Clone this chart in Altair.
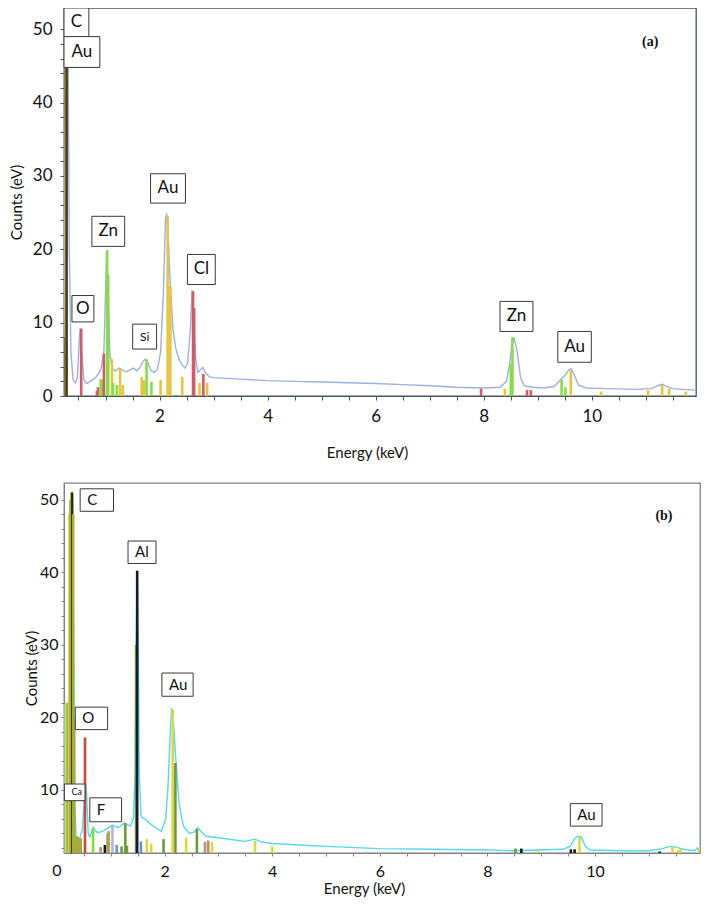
import altair as alt
import pandas as pd

# ---------------- Panel (a) data ----------------
a_energy = [0.232, 0.24, 0.25, 0.27, 0.29, 0.31, 0.33, 0.36, 0.40, 0.44, 0.48, 0.51, 0.53, 0.56, 0.60,
            0.65, 0.72, 0.80, 0.87, 0.92, 0.97, 1.00, 1.02, 1.05, 1.08, 1.12, 1.18, 1.25, 1.30, 1.38,
            1.46, 1.52, 1.58, 1.65, 1.70, 1.74, 1.78, 1.84, 1.90, 1.96, 2.02, 2.07, 2.11, 2.13, 2.16,
            2.20, 2.25, 2.30, 2.36, 2.42, 2.47, 2.52, 2.57, 2.60, 2.63, 2.67, 2.71, 2.76, 2.80, 2.85,
            2.92, 3.0, 3.5, 4.0, 4.5, 5.0, 5.5, 6.0, 6.5, 7.0, 7.5, 8.0, 8.3, 8.42, 8.48, 8.52, 8.56,
            8.62, 8.68, 8.75, 8.9, 9.1, 9.3, 9.42, 9.5, 9.58, 9.62, 9.68, 9.75, 9.9, 10.3, 10.8, 11.1,
            11.22, 11.3, 11.38, 11.5, 11.7, 11.92]
a_counts = [8.0, 14.0, 30.0, 60.0, 60.0, 45.0, 20.0, 6.0, 2.2, 1.8, 2.5, 7.0, 9.2, 6.0, 2.2,
            1.7, 2.0, 2.4, 3.0, 3.8, 6.0, 14.0, 19.8, 14.0, 6.0, 3.8, 3.4, 3.8, 3.6, 3.3,
            3.6, 3.8, 3.4, 4.0, 4.8, 5.0, 4.6, 3.5, 3.2, 3.6, 6.0, 14.0, 24.0, 24.9, 22.0,
            15.0, 9.0, 6.5, 5.0, 4.2, 3.8, 4.5, 9.0, 14.4, 11.0, 5.0, 3.2, 3.6, 3.9, 3.2,
            2.6, 2.5, 2.3, 2.1, 2.0, 1.9, 1.8, 1.7, 1.55, 1.4, 1.2, 1.1, 1.2, 2.0, 4.5, 7.0, 8.0,
            6.0, 2.5, 1.4, 1.2, 1.1, 1.3, 2.2, 2.8, 3.6, 3.7, 2.8, 1.5, 1.1, 1.0, 0.9, 1.0,
            1.4, 1.6, 1.3, 1.0, 0.9, 0.8]

a_bar_energy = [0.27, 0.28, 0.55, 0.84, 0.86, 0.91, 0.95, 0.97, 1.03, 1.05, 1.12, 1.14, 1.21, 1.27,
                1.32, 1.67, 1.71, 1.76, 1.85, 2.02, 2.15, 2.20, 2.42, 2.62, 2.64, 2.74, 2.81, 2.88,
                7.95, 8.39, 8.50, 8.53, 8.80, 8.87, 9.44, 9.51, 9.61, 10.17, 11.04, 11.30, 11.43, 11.74]
a_bar_counts = [44.8, 44.8, 9.2, 0.7, 1.2, 2.3, 2.2, 5.8, 19.9, 16.5, 5.0, 1.8, 1.5, 3.8,
                1.5, 2.6, 2.2, 5.0, 1.9, 2.2, 24.5, 15.0, 2.6, 14.3, 12.0, 1.8, 3.0, 1.8,
                1.0, 1.0, 4.4, 8.0, 0.8, 0.8, 2.2, 1.2, 3.5, 0.6, 0.8, 1.5, 1.0, 0.6]
a_bar_element = ["Au", "C", "O", "Cl", "Cl", "Zn", "Zn", "Cl", "Zn", "Zn", "Au", "Zn", "Zn", "Au",
                 "Au", "Au", "Au", "Zn", "Zn", "Au", "Au", "Au", "Au", "Cl", "Cl", "Au", "Cl", "Au",
                 "Cl", "Au", "Zn", "Zn", "Cl", "Cl", "Zn", "Zn", "Au", "Au", "Au", "Au", "Au", "Au"]

a_lab_text = ["C", "Au", "O", "Zn", "Si", "Au", "Cl", "Zn", "Au"]
a_lab_x1 = [0.232, 0.232, 0.379, 0.748, 1.503, 1.834, 2.516, 8.30, 9.37]
a_lab_x2 = [0.692, 0.895, 0.785, 1.355, 1.945, 2.479, 3.031, 8.91, 9.99]
a_lab_y1 = [49.0, 44.8, 10.1, 20.4, 6.4, 26.3, 15.2, 8.8, 4.6]
a_lab_y2 = [52.9, 49.0, 13.7, 24.5, 9.8, 30.3, 19.3, 12.9, 8.8]

# ---------------- Panel (b) data ----------------
b_energy = [0.13, 0.135, 0.22, 0.25, 0.28, 0.29, 0.31, 0.33, 0.36, 0.42, 0.47, 0.51, 0.53, 0.55,
            0.58, 0.61, 0.67, 0.72, 0.76, 0.85, 0.96, 1.03, 1.14, 1.25, 1.36, 1.42, 1.45, 1.47,
            1.49, 1.51, 1.53, 1.56, 1.58, 1.63, 1.75, 1.85, 1.94, 2.02, 2.06, 2.10, 2.13, 2.16,
            2.20, 2.27, 2.35, 2.46, 2.55, 2.62, 2.68, 2.77, 3.0, 3.5, 3.68, 3.8, 4.0, 4.5, 5.0,
            6.0, 7.0, 8.0, 8.5, 8.9, 9.4, 9.54, 9.62, 9.68, 9.74, 9.82, 9.9, 10.5, 11.0, 11.25,
            11.4, 11.5, 11.65, 11.85, 11.9, 11.95]
b_counts = [1.3, 21.7, 21.7, 40.0, 51.1, 50.5, 30.0, 8.0, 2.8, 3.2, 4.5, 9.0, 11.0, 9.5,
            4.0, 3.5, 4.8, 4.3, 4.1, 4.3, 4.8, 5.1, 4.8, 5.4, 5.0, 6.0, 12.0, 30.0,
            40.2, 30.0, 12.0, 6.6, 6.2, 6.0, 5.2, 4.7, 4.3, 6.0, 10.0, 17.0, 21.3, 20.0,
            15.0, 8.0, 5.0, 4.0, 4.2, 4.8, 4.2, 3.6, 3.4, 2.9, 3.2, 2.8, 2.6, 2.4, 2.2,
            1.9, 1.8, 1.7, 1.6, 1.7, 1.8, 2.2, 3.3, 3.6, 3.5, 2.2, 1.7, 1.6, 1.6, 1.9,
            2.2, 2.1, 1.8, 1.6, 2.0, 1.5]

b_bar_energy = [0.17, 0.20, 0.23, 0.25, 0.27, 0.28, 0.30, 0.32, 0.35, 0.38, 0.41, 0.44, 0.52,
                0.67, 0.81, 0.89, 0.94, 0.96, 1.03, 1.11, 1.20, 1.27, 1.30, 1.47, 1.49, 1.56,
                1.67, 1.75, 1.98, 2.15, 2.20, 2.40, 2.60, 2.75, 2.81, 2.88, 3.68, 4.00,
                8.52, 8.63, 8.94, 9.55, 9.62, 9.71, 11.20, 11.44, 11.55, 11.59, 11.93]
b_bar_counts = [22.0, 22.0, 48.0, 50.0, 51.0, 51.0, 48.0, 20.0, 3.5, 3.6, 3.4, 3.3, 17.2,
                4.8, 2.1, 2.4, 4.0, 4.3, 5.0, 2.4, 2.2, 5.4, 2.3, 30.0, 40.2, 2.9,
                3.2, 2.6, 3.2, 21.0, 13.7, 3.4, 4.6, 2.8, 3.0, 2.8, 3.0, 2.2,
                1.9, 1.9, 1.7, 1.8, 1.8, 3.4, 1.5, 2.1, 1.7, 1.9, 1.8]
b_bar_element = ["Au", "C", "Au", "C", "Au", "Cx", "C", "C", "C", "C", "C", "C", "O",
                 "F", "Fe", "Cu", "Fe", "C", "Na", "Mg", "Ca", "Ca", "Ca", "Ca", "Al", "Mg",
                 "Au", "Au", "Ca", "Au", "Ca", "Au", "Ca", "Fe", "Fe", "Au", "Au", "Au",
                 "Ca", "Cu", "Au", "Cu", "Cu", "Au", "Cu", "Au", "Au", "Au", "Au"]

b_lab_text = ["C", "Al", "Au", "O", "Ca", "F", "Au"]
b_lab_x1 = [0.43, 1.32, 1.95, 0.34, 0.137, 0.61, 9.54]
b_lab_x2 = [1.05, 1.84, 2.53, 0.94, 0.52, 1.20, 10.13]
b_lab_y1 = [48.4, 41.2, 22.9, 18.3, 8.5, 5.6, 5.0]
b_lab_y2 = [51.5, 44.3, 26.1, 21.4, 10.8, 8.9, 8.1]
b_zero_tick = [0.0]

# ---------------- styling ----------------
FONT = "Lato"
a_colors = {"Au": "#e6c43e", "C": "#4a3c12", "O": "#d45a66", "Cl": "#d45a66", "Zn": "#86dc46"}
b_colors = {"Au": "#dcd840", "C": "#a4ac3c", "Cx": "#2e2c0c", "O": "#c84a3c", "F": "#7ee03a",
            "Fe": "#b89070", "Cu": "#1a1a1a", "Na": "#b8b0e8", "Mg": "#6a8ed8", "Ca": "#6e9a3a",
            "Al": "#141a30"}


def panel(energy, counts, bE, bC, bEl, colors, lt, lx1, lx2, ly1, ly2, xdom, ydom, w, h,
          line_color, frame, tag, ybase, boxed_left, lab_size, tick_size, pads, xtitle_x,
          y_values, x_values, zero=None):
    # pads = (x titlePadding, y titlePadding, y labelPadding, tickSize, x labelPadding)
    spec = pd.DataFrame({"E": energy, "C": counts})
    bars = pd.DataFrame({"E": bE, "C": bC, "el": bEl})
    bars["base"] = ybase
    labs = pd.DataFrame({"t": lt, "x1": lx1, "x2": lx2, "y1": ly1, "y2": ly2})

    xs = alt.Scale(domain=xdom, nice=False, zero=False)
    ys = alt.Scale(domain=ydom, nice=False, zero=False)
    xax = alt.Axis(values=x_values, title="Energy (keV)",
                   labelExpr="datum.value % 2 == 0 ? '' + datum.value : ''",
                   labelOverlap=False, labelFlush=False, labelBound=False, grid=False, tickSize=pads[3],
                   labelPadding=pads[4],
                   labelFontSize=tick_size, titleFontSize=15, titleFontWeight="normal", titlePadding=pads[0],
                   titleX=xtitle_x, domainColor=frame, tickColor=frame, labelColor="#111", titleColor="#111",
                   labelFont=FONT, titleFont=FONT)
    yax = alt.Axis(values=y_values, title="Counts (eV)",
                   labelExpr="datum.value % 10 == 0 ? '' + datum.value : ''",
                   labelOverlap=False, labelFlush=False, labelBound=False, grid=False, tickSize=pads[3],
                   labelPadding=pads[2],
                   labelFontSize=tick_size, titleFontSize=15, titleFontWeight="normal", titlePadding=pads[1],
                   domainColor=frame, tickColor=frame, labelColor="#111", titleColor="#111",
                   labelFont=FONT, titleFont=FONT)

    line = alt.Chart(spec).mark_line(color=line_color, strokeWidth=1.4, clip=True).encode(
        x=alt.X("E:Q", scale=xs, axis=xax), y=alt.Y("C:Q", scale=ys, axis=yax))
    rules = alt.Chart(bars).mark_rule(strokeWidth=2.6, clip=True).encode(
        x=alt.X("E:Q", axis=xax), y=alt.Y("base:Q", axis=yax), y2="C:Q",
        color=alt.Color("el:N", scale=alt.Scale(domain=list(colors.keys()), range=list(colors.values())),
                        legend=None))
    boxes = alt.Chart(labs).mark_rect(fill="white", stroke="#3a3a3a", strokeWidth=1).encode(
        x=alt.X("x1:Q", axis=xax), x2="x2:Q", y=alt.Y("y1:Q", axis=yax), y2="y2:Q")
    if boxed_left:
        txt = alt.Chart(labs).transform_calculate(yc="(datum.y1 + datum.y2) / 2").mark_text(
            align="left", baseline="middle", dx=7, font=FONT, color="#111").encode(
            x=alt.X("x1:Q", axis=xax), y=alt.Y("yc:Q", axis=yax), text="t:N",
            size=alt.condition("datum.t == 'Ca'", alt.value(9), alt.value(lab_size)))
    else:
        txt = alt.Chart(labs).transform_calculate(xc="(datum.x1 + datum.x2) / 2",
                                                  yc="(datum.y1 + datum.y2) / 2").mark_text(
            align="center", baseline="middle", font=FONT, color="#111").encode(
            x=alt.X("xc:Q", axis=xax), y=alt.Y("yc:Q", axis=yax), text="t:N",
            size=alt.condition("datum.t == 'Si'", alt.value(12), alt.value(lab_size)))
    tagd = pd.DataFrame({"E": [tag[1]], "C": [tag[2]], "t": [tag[0]]})
    tagm = alt.Chart(tagd).mark_text(font="Liberation Serif", fontWeight="bold", fontSize=14,
                                     color="#111").encode(x=alt.X("E:Q", axis=xax), y=alt.Y("C:Q", axis=yax),
                                                          text="t:N")
    layers = [line, rules, boxes, txt, tagm]
    if zero is not None:
        zd = pd.DataFrame({"E": zero, "C": [ydom[0]] * len(zero)})
        zd["t"] = [str(int(v)) for v in zero]
        layers.append(alt.Chart(zd).mark_text(font=FONT, fontSize=tick_size, color="#111", baseline="top",
                                              dy=pads[3] + pads[4]).encode(
            x=alt.X("E:Q", axis=xax), y=alt.Y("C:Q", axis=yax), text="t:N"))
    return alt.layer(*layers).properties(width=w, height=h,
                                         view=alt.ViewBackground(stroke=frame, strokeWidth=1.3))


chart_a = panel(a_energy, a_counts, a_bar_energy, a_bar_counts, a_bar_element, a_colors,
                a_lab_text, a_lab_x1, a_lab_x2, a_lab_y1, a_lab_y2,
                [0.232, 11.927], [0, 52.9], 632, 388, "#9ab2e0", "#46575a", ("(a)", 11.08, 48.2),
                0, False, 17, 17, (21, 8, 8, 4, 8), 303,
                list(range(0, 51, 2)), [x / 2 for x in range(1, 24)])

chart_b = panel(b_energy, b_counts, b_bar_energy, b_bar_counts, b_bar_element, b_colors,
                b_lab_text, b_lab_x1, b_lab_x2, b_lab_y1, b_lab_y2,
                [0.13, 11.95], [1.29, 52.3], 636, 370, "#55d8ee", "#7d8486", ("(b)", 11.28, 47.7),
                1.29, True, 15, 16, (2, 0, 3, 3, 7), 300,
                list(range(2, 51, 2)), [x / 2 for x in range(1, 24)], zero=b_zero_tick)

chart = alt.concat(chart_a, chart_b, columns=1).properties(
    align="none", spacing=21, padding={"top": -2, "left": 0, "right": 0, "bottom": 0}
).resolve_scale(color="independent").configure(font=FONT).configure_view(
    strokeWidth=1.3).configure_axis(labelOverlap=False, labelBound=False, labelFlush=False)

chart.save("out.html", embed_options={"renderer": "svg", "actions": False})
